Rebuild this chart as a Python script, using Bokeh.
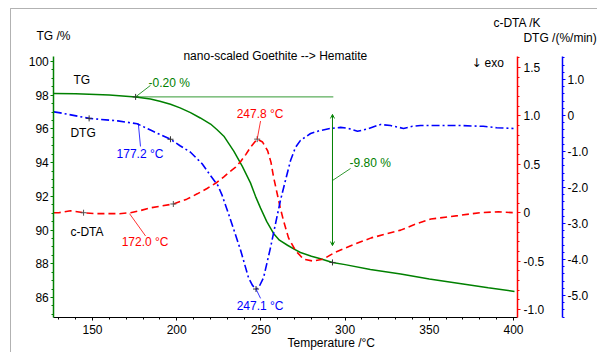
from bokeh.plotting import figure
from bokeh.models import (Range1d, LinearAxis, SingleIntervalTicker, CustomJSTickFormatter,
                          Label, Arrow, OpenHead, BoxAnnotation)
from bokeh.embed import file_html
from bokeh.resources import INLINE

# ---------------- data ----------------
tg_temp = [127, 140, 160, 175.6, 184.4, 190, 196.3, 202, 208.2, 214, 220.1, 224, 228, 233.9,
           238.9, 243.8, 246.8, 249.8, 253.5, 257.5, 261, 265.8, 270, 273.5, 280, 285.4, 292.5,
           300, 315, 333, 350, 370, 385, 400.6]
tg_pct = [98.10, 98.08, 98.02, 97.90, 97.77, 97.64, 97.46, 97.25, 96.97, 96.65, 96.29, 95.95,
          95.57, 94.68, 93.79, 92.80, 92.00, 91.30, 90.50, 89.80, 89.40, 89.10, 88.85, 88.67,
          88.45, 88.30, 88.08, 87.95, 87.66, 87.40, 87.10, 86.80, 86.58, 86.36]

dtg_temp = [127, 130, 148, 165, 176.5, 186, 196.3, 202, 208.2, 215.1, 220.1, 224.4, 227, 232,
            238, 242.6, 245, 247.1, 249, 251.6, 255.7, 258.7, 261.6, 264.6, 267.6, 270.5, 273.5,
            279.5, 285, 291.3, 297.3, 302, 307.4, 314, 321, 327, 334.7, 340, 344.8, 368.5, 382,
            390, 400]
dtg_val = [0.10, 0.08, -0.08, -0.15, -0.23, -0.44, -0.66, -0.84, -1.02, -1.34, -1.67, -1.94,
           -2.22, -2.90, -3.75, -4.50, -4.72, -4.82, -4.75, -4.50, -3.67, -3.00, -2.36, -1.80,
           -1.25, -0.89, -0.69, -0.50, -0.42, -0.36, -0.33, -0.36, -0.44, -0.36, -0.25, -0.28,
           -0.36, -0.30, -0.28, -0.28, -0.30, -0.34, -0.36]

dta_temp = [127, 130, 137, 144.7, 152, 159.5, 166, 172.6, 178, 184.4, 191, 198, 206, 212.2, 218,
            224, 228, 232, 235, 238, 241, 244, 247.8, 251, 254, 256, 257.5, 260, 261.5, 263.4,
            266.4, 270.5, 275.3, 281, 287, 294, 305, 315.5, 333, 343, 351, 367, 380, 391, 400]
dta_val = [0.00, 0.00, 0.02, 0.00, -0.01, -0.01, -0.01, 0.00, 0.02, 0.05, 0.07, 0.09, 0.14,
           0.195, 0.25, 0.315, 0.37, 0.43, 0.47, 0.53, 0.60, 0.68, 0.76, 0.73, 0.64, 0.52, 0.37,
           0.17, 0.05, -0.08, -0.26, -0.39, -0.48, -0.50, -0.48, -0.41, -0.33, -0.26, -0.18,
           -0.11, -0.065, -0.03, 0.00, 0.01, 0.00]

# evaluation markers
tg_mark_temp = [175.6, 292.5]
tg_mark_val = [97.90, 88.08]
dtg_mark_temp = [148, 196.3, 247.1]
dtg_mark_val = [-0.08, -0.66, -4.82]
dta_mark_temp = [144.7, 198, 247.8]
dta_mark_val = [0.00, 0.09, 0.76]

# axis extents (data units)
temp_lo, temp_hi = 127.0, 402.4
tg_lo, tg_hi = 84.81, 100.30
dta_lo, dta_hi = -1.083, 1.614
dtg_lo, dtg_hi = -5.611, 1.639

GREEN = "#008000"
RED = "#ff0000"
BLUE = "#0000ff"
FONT = "Liberation Sans"
FS = "12px"

# frame spans the whole canvas; axes are drawn at fixed locations inside it
p = figure(width=597, height=352, output_backend="svg", toolbar_location=None,
           x_range=Range1d(95.368, 449.88), y_range=Range1d(82.737, 103.619),
           min_border=0, min_border_left=0, min_border_right=0,
           min_border_top=0, min_border_bottom=0)
p.title.visible = False
p.outline_line_color = None
p.xgrid.visible = False
p.ygrid.visible = False
p.background_fill_color = "white"
p.border_fill_color = "white"

p.extra_y_ranges = {"dta": Range1d(-1.444, 2.192), "dtg": Range1d(-6.583, 3.194)}

fmt = CustomJSTickFormatter(code="return tick == 0 ? '0' : tick.toFixed(1);")

def style_axis(ax, color, standoff):
    ax.axis_line_color = color
    ax.axis_line_width = 1.5
    ax.major_tick_line_color = color
    ax.minor_tick_line_color = color
    ax.major_tick_in = 0
    ax.major_tick_out = 3
    ax.minor_tick_in = 0
    ax.minor_tick_out = 2
    ax.major_label_text_font = FONT
    ax.major_label_text_font_size = FS
    ax.major_label_text_color = "black"
    ax.major_label_standoff = standoff

xa = p.xaxis[0]
xa.ticker = SingleIntervalTicker(interval=50, num_minor_ticks=5)
xa.fixed_location = tg_lo
xa.bounds = (temp_lo, temp_hi)
style_axis(xa, "black", 4)
xa.axis_line_width = 1

ya = p.yaxis[0]
ya.ticker = SingleIntervalTicker(interval=2, num_minor_ticks=4)
ya.fixed_location = temp_lo
ya.bounds = (tg_lo, tg_hi)
style_axis(ya, GREEN, 2)

ax_dta = LinearAxis(y_range_name="dta", ticker=SingleIntervalTicker(interval=0.5, num_minor_ticks=5),
                    formatter=fmt, fixed_location=temp_hi, bounds=(dta_lo, dta_hi))
style_axis(ax_dta, RED, 3)
p.add_layout(ax_dta, "right")

ax_dtg = LinearAxis(y_range_name="dtg", ticker=SingleIntervalTicker(interval=1, num_minor_ticks=5),
                    formatter=fmt, fixed_location=429.1, bounds=(dtg_lo, dtg_hi))
style_axis(ax_dtg, BLUE, 2)
p.add_layout(ax_dtg, "right")

# ---------------- curves ----------------
p.line(tg_temp, tg_pct, color=GREEN, line_width=1.5)
p.line(dta_temp, dta_val, y_range_name="dta", color=RED, line_width=1.6, line_dash="7 4")
p.line(dtg_temp, dtg_val, y_range_name="dtg", color=BLUE, line_width=1.6, line_dash="8 3 2 3")

p.scatter(tg_mark_temp, tg_mark_val, marker="cross", size=6, color="#333333", line_width=1)
p.scatter(dtg_mark_temp, dtg_mark_val, marker="cross", size=6, color="#333333", line_width=1,
          y_range_name="dtg")
p.scatter(dta_mark_temp, dta_mark_val, marker="cross", size=6, color="#555555", line_width=1,
          y_range_name="dta")

# ---------------- evaluation annotations ----------------
p.segment([175.6], [97.90], [293.0], [97.90], color=GREEN, line_width=1, alpha=0.8)
p.segment([175.6], [97.90], [184.4], [98.58], color=GREEN, line_width=1, alpha=0.8)
p.segment([292.5], [92.94], [303.2], [93.65], color=GREEN, line_width=1, alpha=0.8)
p.add_layout(Arrow(x_start=292.5, y_start=89.08, x_end=292.5, y_end=96.86,
                   line_color=GREEN, line_width=1,
                   start=OpenHead(size=4, line_color=GREEN, line_width=1),
                   end=OpenHead(size=4, line_color=GREEN, line_width=1)))
p.segment([247.8], [0.76], [249.8], [0.947], color=RED, line_width=1, alpha=0.8, y_range_name="dta")
p.segment([172.0], [-0.01], [181.5], [-0.24], color=RED, line_width=1, alpha=0.8, y_range_name="dta")
p.segment([177.2], [-0.22], [178.5], [-0.86], color=BLUE, line_width=1, alpha=0.8, y_range_name="dtg")
p.segment([247.1], [-4.82], [249.8], [-5.08], color=BLUE, line_width=1, alpha=0.8, y_range_name="dtg")

def lab(x, y, text, color="black", align="left", rng="default", font=FONT):
    p.add_layout(Label(x=x, y=y, text=text, text_color=color, text_font=font,
                       text_font_size=FS, text_align=align, text_baseline="middle",
                       y_range_name=rng))

lab(183.3, 98.70, "-0.20 %", GREEN)
lab(302.6, 93.95, "-9.80 %", GREEN)
lab(249.5, 1.02, "247.8 °C", RED, "center", "dta")
lab(181.2, -0.30, "172.0 °C", RED, "center", "dta")
lab(178.2, -1.08, "177.2 °C", BLUE, "center", "dtg")
lab(249.5, -5.28, "247.1 °C", BLUE, "center", "dtg")
lab(138.7, 98.93, "TG")
lab(136.9, 95.73, "DTG")
lab(136.9, 89.86, "c-DTA")
lab(204.0, 100.30, "nano-scaled Goethite --> Hematite")
lab(375.1, 99.94, "\u2193\ufe0e", font="DejaVu Sans")
lab(382.8, 99.94, "exo")
# axis titles
lab(116.75, 101.54, "TG /%")
lab(388.1, 102.31, "c-DTA /K")
lab(405.9, 101.42, "DTG /(%/min)")
lab(265.8, 83.33, "Temperature /°C")

# outer frame (only its top and left edges fall inside the window)
p.add_layout(BoxAnnotation(left=101.31, top=103.144, right=470, bottom=75,
                           fill_alpha=0, line_color="black", line_width=1))

open("out.html", "w").write(file_html(p, INLINE))
